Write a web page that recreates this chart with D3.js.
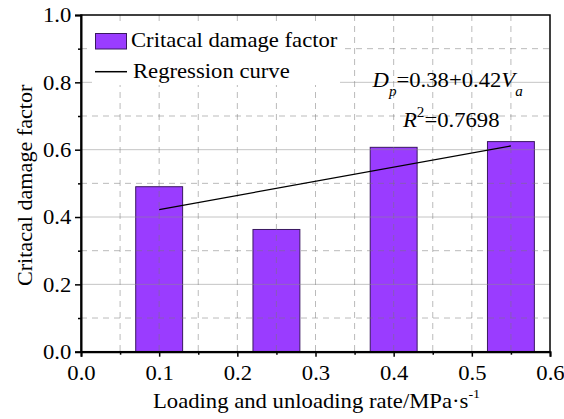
<!DOCTYPE html>
<html>
<head>
<meta charset="utf-8">
<script src="https://cdn.jsdelivr.net/npm/d3@7"></script>
<style>
  html, body { margin: 0; padding: 0; background: #fff; }
  svg { display: block; }
</style>
</head>
<body>
<svg id="chart" width="564" height="419"></svg>
<script>
// Loading/unloading rate (MPa/s) and critical damage factor
const rates = [0.1, 0.25, 0.4, 0.55];
const damageFactor = [0.49, 0.363, 0.607, 0.624];

// Linear regression D_p = a + b * V_a
const fitIntercept = 0.38;
const fitSlope = 0.42;
const fitRange = [0.1, 0.55];
const fitR2 = "0.7698";

const xTicks = [0.0, 0.1, 0.2, 0.3, 0.4, 0.5, 0.6];
const xMinorTicks = [0.05, 0.15, 0.25, 0.35, 0.45, 0.55];
const yTicks = [0.0, 0.2, 0.4, 0.6, 0.8, 1.0];
const yMinorTicks = [0.1, 0.3, 0.5, 0.7, 0.9];

const legendLabels = ["Critacal damage factor", "Regression curve"];
const xTitle = "Loading and unloading rate/MPa·s";
const yTitle = "Critacal damage factor";

(function draw() {
  const FONT = "Liberation Serif";
  const SX = 1.08; // slightly wide glyph setting
  const svg = d3.select("#chart");
  const pLeft = 81, pRight = 550, pTop = 15, pBottom = 351.7;

  const x = d3.scaleLinear().domain([0, 0.6]).range([pLeft, pRight]);
  const y = d3.scaleLinear().domain([0, 1]).range([pBottom, pTop]);

  const barColor = "#9a3cff";
  const barStroke = "#3a1860";
  const barHalf = 0.03;

  const label = (parent, px, py, size, extra = "") => parent.append("text")
    .attr("transform", `translate(${px},${py}) ${extra} scale(${SX},1)`)
    .attr("font-family", FONT).attr("font-size", size).attr("fill", "#000");

  // bars
  svg.append("g").selectAll("rect")
    .data(rates.map((r, i) => ({ r, v: damageFactor[i] })))
    .join("rect")
    .attr("x", d => x(d.r - barHalf))
    .attr("width", d => x(d.r + barHalf) - x(d.r - barHalf))
    .attr("y", d => y(d.v))
    .attr("height", d => y(0) - y(d.v))
    .attr("fill", barColor)
    .attr("stroke", barStroke)
    .attr("stroke-width", 1);

  // grid
  const grid = svg.append("g");
  grid.append("g").selectAll("line")
    .data(xMinorTicks.concat(xTicks.slice(1, -1)))
    .join("line")
    .attr("x1", d => x(d)).attr("x2", d => x(d))
    .attr("y1", pTop).attr("y2", pBottom)
    .attr("stroke", "rgba(120,120,120,0.5)")
    .attr("stroke-width", 1)
    .attr("stroke-dasharray", "6,5");
  grid.append("g").selectAll("line")
    .data(yMinorTicks)
    .join("line")
    .attr("x1", pLeft).attr("x2", pRight)
    .attr("y1", d => y(d)).attr("y2", d => y(d))
    .attr("stroke", "rgba(120,120,120,0.5)")
    .attr("stroke-width", 1)
    .attr("stroke-dasharray", "6,5");
  grid.append("g").selectAll("line")
    .data(yTicks.slice(1, -1))
    .join("line")
    .attr("x1", pLeft).attr("x2", pRight)
    .attr("y1", d => y(d)).attr("y2", d => y(d))
    .attr("stroke", "rgba(140,140,140,0.5)")
    .attr("stroke-width", 1);

  // legend
  const lg = svg.append("g");
  lg.append("rect").attr("x", 92).attr("y", 24).attr("width", 248).attr("height", 61).attr("fill", "#fff");
  lg.append("rect").attr("x", 95.5).attr("y", 33.5).attr("width", 31).attr("height", 15.5)
    .attr("fill", barColor).attr("stroke", barStroke).attr("stroke-width", 1);
  label(lg, 131, 46.5, 21).text(legendLabels[0]);
  lg.append("line").attr("x1", 95).attr("x2", 127).attr("y1", 71.7).attr("y2", 71.7)
    .attr("stroke", "#000").attr("stroke-width", 1.5);
  label(lg, 133, 78, 21).text(legendLabels[1]);

  // regression line
  const fit = v => fitIntercept + fitSlope * v;
  svg.append("path")
    .attr("d", d3.line().x(d => x(d)).y(d => y(fit(d)))(fitRange))
    .attr("stroke", "#000").attr("stroke-width", 1.3).attr("fill", "none");

  // frame
  svg.append("rect").attr("x", pLeft).attr("y", pTop)
    .attr("width", pRight - pLeft).attr("height", pBottom - pTop)
    .attr("fill", "none").attr("stroke", "#000").attr("stroke-width", 1.5);

  // axes
  svg.append("g").attr("transform", `translate(0,${pBottom})`)
    .call(d3.axisBottom(x).tickValues(xTicks).tickFormat(d3.format(".1f")).tickSize(5).tickPadding(8));
  svg.append("g").attr("transform", `translate(0,${pBottom})`)
    .call(d3.axisBottom(x).tickValues(xMinorTicks).tickFormat("").tickSize(3))
    .select(".domain").remove();
  svg.append("g").attr("transform", `translate(${pLeft},0)`)
    .call(d3.axisLeft(y).tickValues(yTicks).tickFormat(d3.format(".1f")).tickSize(6).tickPadding(3));
  svg.append("g").attr("transform", `translate(${pLeft},0)`)
    .call(d3.axisLeft(y).tickValues(yMinorTicks).tickFormat("").tickSize(3))
    .select(".domain").remove();

  svg.selectAll(".domain").attr("stroke", "#000").attr("stroke-width", 2);
  svg.selectAll(".tick line").attr("stroke", "#000").attr("stroke-width", 1.5);
  svg.selectAll(".tick text").attr("fill", "#000").attr("font-size", 21)
    .attr("font-family", FONT).attr("transform", `scale(${SX},1)`);

  // axis titles
  const xt = label(svg, 153, 407.5, 21);
  xt.append("tspan").text(xTitle);
  xt.append("tspan").attr("font-size", 13).attr("dy", -10).text("-1");

  label(svg, 32, (pTop + pBottom) / 2 + 2, 20.5, "rotate(-90)")
    .attr("text-anchor", "middle").text(yTitle);

  // regression equation
  const eq = label(svg, 372.5, 86.7, 21);
  eq.append("tspan").attr("font-style", "italic").text("D");
  eq.append("tspan").attr("font-style", "italic").attr("font-size", 14).attr("dy", 9).text("p");
  eq.append("tspan").attr("dy", -9).text(`=${fitIntercept}+${fitSlope}`);
  eq.append("tspan").attr("font-style", "italic").text("V");
  eq.append("tspan").attr("font-style", "italic").attr("font-size", 14).attr("dy", 9).text("a");

  const r2 = label(svg, 403, 126.7, 21);
  r2.append("tspan").attr("font-style", "italic").text("R");
  r2.append("tspan").attr("font-size", 14).attr("dy", -10).text("2");
  r2.append("tspan").attr("dy", 10).text(`=${fitR2}`);
})();
</script>
</body>
</html>
